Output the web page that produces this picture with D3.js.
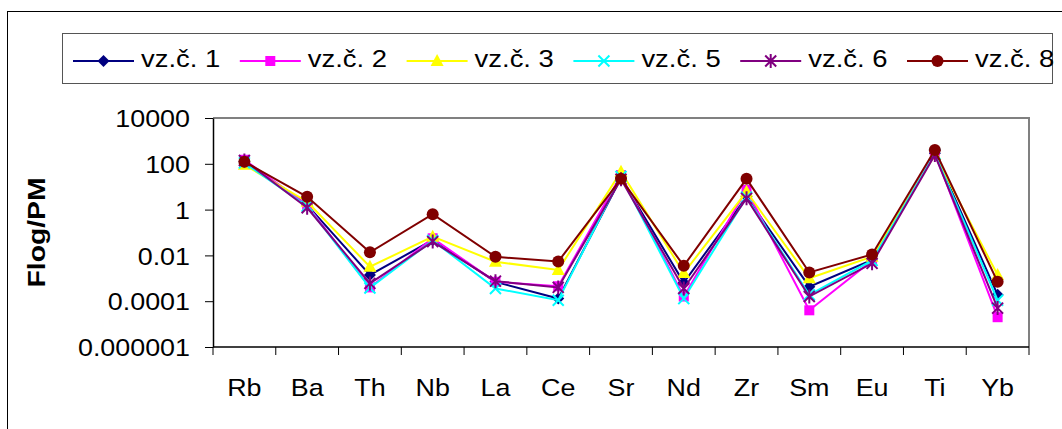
<!DOCTYPE html>
<html>
<head>
<meta charset="utf-8">
<script src="https://cdn.jsdelivr.net/npm/d3@7"></script>
<style>
  html, body { margin: 0; padding: 0; background: #fff; }
  svg { display: block; font-family: "Liberation Sans", Arial, sans-serif; }
</style>
</head>
<body>
<svg id="chart" width="1062" height="429"></svg>
<script>
// Trace elements normalised to primitive mantle (log scale)
const categories = ["Rb", "Ba", "Th", "Nb", "La", "Ce", "Sr", "Nd", "Zr", "Sm", "Eu", "Ti", "Yb"];
const seriesNames = ["vz.č. 1", "vz.č. 2", "vz.č. 3", "vz.č. 5", "vz.č. 6", "vz.č. 8"];
const vz1 = [125, 1.6, 0.0014, 0.047, 0.0007, 0.00013, 24, 0.00065, 3.6, 0.00043, 0.0063, 290, 0.00019];
const vz2 = [150, 1.6, 0.0004, 0.056, 0.0007, 0.00045, 32, 0.00016, 7.2, 0.00004, 0.006, 290, 0.00002];
const vz3 = [90, 2.2, 0.0032, 0.066, 0.0053, 0.0023, 45, 0.0017, 6, 0.001, 0.0087, 250, 0.0014];
const vz5 = [110, 1.4, 0.00038, 0.045, 0.00036, 0.00011, 28, 0.00013, 3.5, 0.00019, 0.006, 270, 0.00011];
const vz6 = [140, 1.2, 0.0006, 0.04, 0.00075, 0.0004, 21, 0.00036, 3.1, 0.00016, 0.0045, 240, 0.00005];
const vz8 = [123, 3.6, 0.0137, 0.63, 0.0087, 0.0054, 22, 0.0035, 22, 0.0018, 0.011, 400, 0.0007];
const yTickValues = [1e-6, 1e-4, 1e-2, 1, 100, 10000];
const yTickLabels = ["0.000001", "0.0001", "0.01", "1", "100", "10000"];
const yTitle = "Flog/PM";

const seriesValues = [vz1, vz2, vz3, vz5, vz6, vz8];
const colors = ["#000080", "#FF00FF", "#FFFF00", "#00FFFF", "#800080", "#800000"];
const markers = ["diamond", "square", "triangle", "cross", "star", "circle"];

const svg = d3.select("#chart");
const plot = { left: 213, top: 118, right: 1029, bottom: 347 };
const sx = 1.12; // horizontal widening of the text glyphs

// chart frame
svg.append("rect").attr("x", 7.5).attr("y", 11.5).attr("width", 1100).attr("height", 500)
  .attr("fill", "#fff").attr("stroke", "#000").attr("stroke-width", 1);

const x = d3.scaleBand().domain(categories).range([plot.left, plot.right]);
const y = d3.scaleLog().domain([1e-6, 1e4]).range([plot.bottom, plot.top]);

// plot area
svg.append("rect").attr("x", plot.left).attr("y", plot.top)
  .attr("width", plot.right - plot.left).attr("height", plot.bottom - plot.top)
  .attr("fill", "#fff");
svg.append("path")
  .attr("d", `M${plot.left},${plot.top}H${plot.right}V${plot.bottom}`)
  .attr("fill", "none").attr("stroke", "#808080").attr("stroke-width", 2);

// y axis
const yAxis = svg.append("g").attr("transform", `translate(${plot.left},0)`)
  .call(d3.axisLeft(y).tickValues(yTickValues)
    .tickFormat((d, i) => yTickLabels[i]).tickSize(8).tickSizeOuter(0));
yAxis.select(".domain").attr("stroke", "#000").attr("stroke-width", 1.5);
yAxis.selectAll(".tick line").attr("stroke", "#000");
yAxis.selectAll(".tick text")
  .attr("x", -23 / sx).attr("dy", "0.36em")
  .attr("transform", `scale(${sx},1)`)
  .attr("font-size", 24).attr("font-family", "Liberation Sans, Arial, sans-serif").attr("fill", "#000");

// x axis: ticks sit on category boundaries
const xAxis = svg.append("g").attr("transform", `translate(0,${plot.bottom})`);
xAxis.append("line").attr("x1", plot.left).attr("x2", plot.right)
  .attr("stroke", "#000").attr("stroke-width", 1.5);
const bounds = categories.map(c => x(c)).concat([plot.right]);
xAxis.selectAll("line.tick").data(bounds).join("line").attr("class", "tick")
  .attr("x1", d => d).attr("x2", d => d).attr("y1", 0).attr("y2", 8)
  .attr("stroke", "#000").attr("stroke-width", 1);
xAxis.selectAll("text").data(categories).join("text")
  .attr("transform", d => `translate(${x(d) + x.bandwidth() / 2},49) scale(${sx},1)`)
  .attr("text-anchor", "middle").attr("font-size", 24).attr("fill", "#000")
  .text(d => d);

// y title
svg.append("text")
  .attr("transform", "translate(45,232.5) rotate(-90)")
  .attr("text-anchor", "middle").attr("font-size", 23).attr("font-weight", "bold")
  .attr("textLength", 110).attr("lengthAdjust", "spacingAndGlyphs")
  .text(yTitle);

// marker drawing
function drawMarker(g, type, color, cx, cy) {
  if (type === "diamond") {
    g.append("path").attr("d", `M${cx},${cy - 6}L${cx + 6},${cy}L${cx},${cy + 6}L${cx - 6},${cy}Z`)
      .attr("fill", color);
  } else if (type === "square") {
    g.append("rect").attr("x", cx - 5).attr("y", cy - 5).attr("width", 10).attr("height", 10)
      .attr("fill", color);
  } else if (type === "triangle") {
    g.append("path").attr("d", `M${cx},${cy - 7}L${cx + 6.5},${cy + 5}L${cx - 6.5},${cy + 5}Z`)
      .attr("fill", color);
  } else if (type === "cross") {
    g.append("path").attr("d", `M${cx - 5.5},${cy - 5.5}L${cx + 5.5},${cy + 5.5}M${cx - 5.5},${cy + 5.5}L${cx + 5.5},${cy - 5.5}`)
      .attr("stroke", color).attr("stroke-width", 2).attr("fill", "none");
  } else if (type === "star") {
    g.append("path").attr("d", `M${cx - 5.5},${cy - 5.5}L${cx + 5.5},${cy + 5.5}M${cx - 5.5},${cy + 5.5}L${cx + 5.5},${cy - 5.5}M${cx},${cy - 7}L${cx},${cy + 7}`)
      .attr("stroke", color).attr("stroke-width", 2).attr("fill", "none");
  } else if (type === "circle") {
    g.append("circle").attr("cx", cx).attr("cy", cy).attr("r", 6).attr("fill", color);
  }
}

// series
const line = d3.line()
  .x((d, i) => x(categories[i]) + x.bandwidth() / 2)
  .y(d => y(d));
seriesValues.forEach((vals, s) => {
  const g = svg.append("g");
  g.append("path").datum(vals).attr("d", line)
    .attr("fill", "none").attr("stroke", colors[s]).attr("stroke-width", 2);
  vals.forEach((v, i) => drawMarker(g, markers[s], colors[s], x(categories[i]) + x.bandwidth() / 2, y(v)));
});

// legend
const legend = svg.append("g");
legend.append("rect").attr("x", 62.5).attr("y", 33.5).attr("width", 990).attr("height", 50)
  .attr("fill", "#fff").attr("stroke", "#555").attr("stroke-width", 1);
seriesNames.forEach((name, s) => {
  const x0 = 73 + s * 166.8;
  const ly = 61;
  const g = legend.append("g");
  g.append("line").attr("x1", x0).attr("x2", x0 + 61).attr("y1", ly).attr("y2", ly)
    .attr("stroke", colors[s]).attr("stroke-width", 2);
  drawMarker(g, markers[s], colors[s], x0 + 30.5, ly);
  g.append("text").attr("transform", `translate(${x0 + 68},${ly + 6}) scale(${sx},1)`)
    .attr("font-size", 24.5).attr("fill", "#000").text(name);
});
</script>
</body>
</html>
